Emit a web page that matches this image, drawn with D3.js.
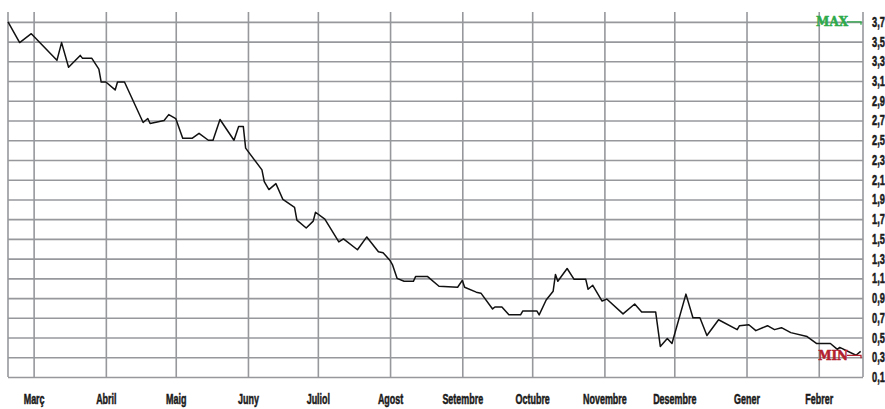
<!DOCTYPE html>
<html>
<head>
<meta charset="utf-8">
<script src="https://cdn.jsdelivr.net/npm/d3@7"></script>
<style>
  body { margin: 0; background: #fff; }
  .lbl { font-family: "Liberation Sans", Arial, sans-serif; font-weight: bold; font-size: 14px; fill: #1a1a1a; stroke: #1a1a1a; stroke-width: 0.5px; }
  .mark { font-family: "DejaVu Serif", serif; font-weight: bold; font-size: 12px; stroke-width: 0.5px; }
</style>
</head>
<body>
<div class="vis-chart"></div>
<script>
// daily quotes (one row per month)
const dates = [
  "2012-02-19", "2012-02-24", "2012-02-29",
  "2012-03-11", "2012-03-13", "2012-03-16", "2012-03-21", "2012-03-22", "2012-03-26", "2012-03-29", "2012-03-30",
  "2012-04-01", "2012-04-05", "2012-04-06", "2012-04-09", "2012-04-17", "2012-04-19", "2012-04-20", "2012-04-26", "2012-04-28",
  "2012-05-01", "2012-05-04", "2012-05-08", "2012-05-11", "2012-05-15", "2012-05-17", "2012-05-20", "2012-05-26", "2012-05-28", "2012-05-30", "2012-05-31",
  "2012-06-07", "2012-06-08", "2012-06-10", "2012-06-13", "2012-06-16", "2012-06-21", "2012-06-22", "2012-06-26", "2012-06-29", "2012-06-30",
  "2012-07-04", "2012-07-10", "2012-07-12", "2012-07-18", "2012-07-22", "2012-07-27", "2012-07-29",
  "2012-08-01", "2012-08-02", "2012-08-04", "2012-08-07", "2012-08-11", "2012-08-12", "2012-08-17", "2012-08-22", "2012-08-30",
  "2012-09-01", "2012-09-02", "2012-09-07", "2012-09-09", "2012-09-14", "2012-09-15", "2012-09-18", "2012-09-21", "2012-09-26", "2012-09-27",
  "2012-10-03", "2012-10-04", "2012-10-07", "2012-10-10", "2012-10-11", "2012-10-12", "2012-10-16", "2012-10-19", "2012-10-24", "2012-10-25", "2012-10-27", "2012-10-31",
  "2012-11-02", "2012-11-09", "2012-11-14", "2012-11-17", "2012-11-23", "2012-11-25", "2012-11-28", "2012-11-30",
  "2012-12-06", "2012-12-09", "2012-12-12", "2012-12-15", "2012-12-20", "2012-12-28", "2012-12-29",
  "2013-01-02", "2013-01-05", "2013-01-10", "2013-01-13", "2013-01-16", "2013-01-20", "2013-01-27", "2013-01-31",
  "2013-02-06", "2013-02-09", "2013-02-10", "2013-02-17", "2013-02-19"
];
const values = [
  3.70, 3.49, 3.58,
  3.31, 3.49, 3.24, 3.36, 3.33, 3.33, 3.22, 3.09,
  3.09, 3.01, 3.09, 3.09, 2.68, 2.72, 2.67, 2.70, 2.76,
  2.72, 2.52, 2.52, 2.57, 2.50, 2.50, 2.71, 2.50, 2.64, 2.64, 2.42,
  2.20, 2.08, 2.00, 2.06, 1.90, 1.82, 1.69, 1.61, 1.68, 1.77,
  1.70, 1.47, 1.50, 1.39, 1.52, 1.37, 1.36,
  1.28, 1.24, 1.10, 1.07, 1.07, 1.12, 1.12, 1.02, 1.01,
  1.08, 1.01, 0.96, 0.95, 0.79, 0.81, 0.81, 0.73, 0.73, 0.77,
  0.77, 0.73, 0.88, 0.97, 1.14, 1.07, 1.20, 1.09, 1.09, 0.99, 1.03, 0.87,
  0.89, 0.74, 0.84, 0.76, 0.76, 0.41, 0.49, 0.44,
  0.94, 0.70, 0.70, 0.52, 0.68, 0.58, 0.62,
  0.63, 0.57, 0.62, 0.58, 0.60, 0.55, 0.51, 0.44,
  0.44, 0.38, 0.40, 0.32, 0.36
];
const monthLabels = ["Març", "Abril", "Maig", "Juny", "Juliol", "Agost", "Setembre", "Octubre", "Novembre", "Desembre", "Gener", "Febrer"];
const yTicks = [0.1, 0.3, 0.5, 0.7, 0.9, 1.1, 1.3, 1.5, 1.7, 1.9, 2.1, 2.3, 2.5, 2.7, 2.9, 3.1, 3.3, 3.5, 3.7];
const period = ["2012-02-19", "2013-02-20"];

const parse = d3.timeParse("%Y-%m-%d");
const data = dates.map((d, i) => ({ date: parse(d), value: values[i] }));

const W = 885, H = 409;
const margin = { top: 12, right: 22, bottom: 32, left: 8 };
const gridColor = "#96989c";

const svg = d3.select(".vis-chart").append("svg")
    .attr("width", W)
    .attr("height", H);

const x = d3.scaleTime()
    .domain(period.map(parse))
    .range([margin.left, W - margin.right]);

const y = d3.scaleLinear()
    .domain([0.1, 3.8])
    .range([H - margin.bottom, margin.top]);

const months = d3.timeMonth.range(parse("2012-03-01"), parse("2013-02-02"));
const comma = d3.format(".1f");

// Y axis on the right, ticks stretched into horizontal gridlines
const yAxis = svg.append("g")
    .attr("transform", `translate(${W - margin.right},0)`)
    .call(d3.axisRight(y)
        .tickValues(yTicks)
        .tickSize(-(W - margin.right - margin.left))
        .tickFormat(d => comma(d).replace(".", ",")));
yAxis.select(".domain").remove();
yAxis.selectAll("line").attr("stroke", gridColor).attr("stroke-width", 1.6);
yAxis.selectAll("text")
    .attr("class", "lbl")
    .attr("font-family", null).attr("font-size", null)
    .attr("transform", "translate(9,0) scale(0.66,1)")
    .attr("x", 0);

// X axis, month starts as vertical gridlines
const xAxis = svg.append("g")
    .attr("transform", `translate(0,${H - margin.bottom})`)
    .call(d3.axisBottom(x)
        .tickValues(months)
        .tickSize(-(H - margin.bottom - margin.top))
        .tickFormat((d, i) => monthLabels[i]));
xAxis.select(".domain").remove();
xAxis.selectAll("line").attr("stroke", gridColor).attr("stroke-width", 1.6);
xAxis.selectAll("text")
    .attr("class", "lbl")
    .attr("font-family", null).attr("font-size", null)
    .attr("y", 27).attr("dy", 0)
    .attr("transform", "scale(0.64,1)");

// plot edges
svg.append("g").selectAll("line")
    .data(x.domain())
    .join("line")
    .attr("x1", d => x(d)).attr("x2", d => x(d))
    .attr("y1", y(3.8)).attr("y2", y(0.1))
    .attr("stroke", gridColor)
    .attr("stroke-width", 1.6);

// price line
const line = d3.line()
    .x(d => x(d.date))
    .y(d => y(d.value));

svg.append("path")
    .datum(data)
    .attr("fill", "none")
    .attr("stroke", "#111")
    .attr("stroke-width", 1.5)
    .attr("stroke-linejoin", "round")
    .attr("d", line);

// MAX / MIN markers
const markers = [
    { label: "MAX", value: d3.max(values), color: "#2eaa4a" },
    { label: "MIN", value: d3.min(values), color: "#b3202e" }
];
const mx = W - margin.right - 2;
markers.forEach(m => {
    const g = svg.append("g").attr("transform", `translate(0,${y(m.value)})`);
    g.append("text")
        .attr("class", "mark")
        .attr("x", mx - 13)
        .attr("dy", "0.36em")
        .attr("text-anchor", "end")
        .attr("fill", m.color)
        .attr("stroke", m.color)
        .text(m.label);
    g.append("path")
        .attr("d", `M${mx - 14},0H${mx}v3`)
        .attr("fill", "none")
        .attr("stroke", m.color)
        .attr("stroke-width", 1.3);
});
</script>
</body>
</html>
